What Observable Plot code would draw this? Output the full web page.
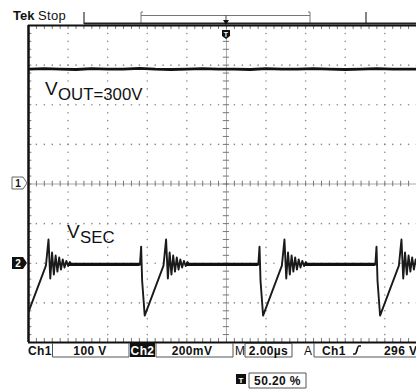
<!DOCTYPE html>
<html><head><meta charset="utf-8">
<script src="https://cdn.jsdelivr.net/npm/d3@7"></script>
<script src="https://cdn.jsdelivr.net/npm/@observablehq/plot@0.6"></script>
<style>
html,body{margin:0;padding:0;background:#fff;}
#chart{position:relative;width:416px;height:392px;overflow:hidden;}
svg{font-family:"Liberation Sans",Arial,sans-serif;}
</style>
</head><body><div id="chart"></div>
<script>
// ---- data ----
// Ch1: VOUT in volts (100 V/div), sample times in µs (2 µs/div)
const voutT = [0,0.8,1.6,2.4,3.2,4.0,4.8,5.6,6.4,7.2,8.0,8.8,9.6,10.4,11.2,12.0,12.8,13.6,14.4,15.2,16.0,16.8,17.6,18.4,19.2,19.6];
const voutV = [290,291,290,289,291,290,290,292,290,289,290,291,290,290,289,291,290,290,291,290,289,290,291,290,290,290];
// Ch2: VSEC one switching cycle, offsets (µs) from each falling edge and level (mV, 200 mV/div)
const cycleT  = [-0.06, 0, 0.05, 0.18, 1.13, 1.26, 1.35, 1.44, 1.53, 1.62, 1.71, 1.80, 1.89, 1.98, 2.07, 2.16, 2.25, 2.34, 2.43, 2.52];
const cycleMv = [-7, 84, -87, -264, -12, 120, -77, 54, -57, 39, -42, 29, -32, 19, -22, 12, -14, 6, -9, -4];
const edgeTimes = [-0.25, 5.69, 11.67, 17.58];
const baselineMv = -6;
// scope settings
const ch1VoltsPerDiv = 100, ch2mVPerDiv = 200, ch2Offset = -2;
const readouts = {ch1:"100 V", ch2:"200mV", time:"2.00µs", trig:"296 V", pos:"50.20 %"};

// ---- tables ----
const vout = voutT.map((t,i)=>({t, y: voutV[i]/ch1VoltsPerDiv}));
const vsec = edgeTimes.flatMap(e => cycleT.map((d,i)=>({t:e+d, y: ch2Offset + cycleMv[i]/ch2mVPerDiv})));
// flat (noisy, thick) portions between end of ringing and next edge
const flats = edgeTimes.slice(0,-1).map((e,i)=>({x1: e + 2.3, x2: edgeTimes[i+1] - 0.06, y: ch2Offset + baselineMv/ch2mVPerDiv}));

// graticule positions
const xMajor = d3.range(2, 19, 2).filter(d=>d!==10);
const yMajor = [-3,-2,-1,1,2,3];
const xMinor = d3.range(0, 19.61, 0.4);
const yMinor = d3.range(-4, 4.001, 0.2);
const gridDots = [
  ...xMajor.flatMap(x => yMinor.map(y=>({x,y}))),
  ...yMajor.flatMap(y => xMinor.map(x=>({x,y})))
];

const svg = Plot.plot({
  width:416, height:392,
  marginLeft:28, marginRight:0, marginTop:25, marginBottom:50,
  x:{domain:[0,19.6], axis:null},
  y:{domain:[-4,4], axis:null},
  style:{background:"#fff"},
  marks:[
    Plot.dot(gridDots, {x:"x", y:"y", r:0.8, fill:"#8a8a8a", stroke:null}),
    // center cross
    Plot.ruleY([0], {stroke:"#aaa", strokeWidth:1}),
    Plot.ruleX([10], {stroke:"#aaa", strokeWidth:1}),
    Plot.ruleX(xMinor, {x:d=>d, y1:-0.07, y2:0.07, stroke:"#777"}),
    Plot.ruleY(yMinor, {y:d=>d, x1:9.84, x2:10.16, stroke:"#777"}),
    // border ticks
    Plot.ruleY(yMinor, {y:d=>d, x1:0, x2:0.17, stroke:"#777"}),
    Plot.ruleX(xMinor, {x:d=>d, y1:4, y2:3.9, stroke:"#777"}),
    Plot.ruleX(xMinor, {x:d=>d, y1:-4, y2:-3.9, stroke:"#777"}),
    // border
    Plot.ruleX([0], {stroke:"#111", strokeWidth:2.5}),
    Plot.ruleY([4, -4], {stroke:"#111", strokeWidth:2.2}),
    // traces
    Plot.line(vout, {x:"t", y:"y", stroke:"#111", strokeWidth:2.8, clip:true}),
    Plot.line(vsec, {x:"t", y:"y", stroke:"#1a1a1a", strokeWidth:1.9, clip:true}),
    Plot.ruleY(flats, {x1:"x1", x2:"x2", y:"y", stroke:"#111", strokeWidth:3.2, clip:true})
  ]
});
document.getElementById("chart").appendChild(svg);

// ---- decorations: header, channel markers, readouts, labels ----
const g = d3.select(svg).append("g").attr("font-family","'Liberation Sans',Arial,sans-serif");
function text(x,y,s,o={}) {
  const t = g.append("text").attr("x",x).attr("y",y).text(s)
    .attr("font-size", o.size||12).attr("fill", o.fill||"#111")
    .attr("font-weight", o.weight||"normal").attr("text-anchor", o.anchor||"start");
  if (o.ls) t.attr("letter-spacing", o.ls);
  return t;
}
function path(d, stroke, fill, w) {
  g.append("path").attr("d",d).attr("stroke",stroke||"none").attr("fill",fill||"none").attr("stroke-width",w||1);
}
// header
text(13,20,"Tek",{weight:"bold",size:13});
text(38,20,"Stop",{size:13,ls:0.3});
path("M84,12V24M366,12V24","#444",null,1.3);
path("M143,12H141V23M141,15.5H310M308,12H310V23","#777",null,1);
path("M84,23.5H416","#222",null,2);
text(226,20,"T",{size:8,anchor:"middle",fill:"#666",weight:"bold"});
path("M223,20L229,20L226,25Z",null,"#111");
path("M222,30H230V36L226,39L222,36Z",null,"#111");
text(226,36.5,"T",{size:7,anchor:"middle",fill:"#fff",weight:"bold"});
// channel markers
path("M12,177H23L27,183L23,189H12Z","#666","#fff",1);
text(18,187,"1",{size:10,anchor:"middle",weight:"bold"});
path("M12,257H23L27,263L23,269H12Z",null,"#111");
text(18,267,"2",{size:10,anchor:"middle",weight:"bold",fill:"#fff"});
// labels
text(45,95,"V",{size:19});
text(58,100,"OUT=300V",{size:16.8});
text(67,238,"V",{size:19});
text(80,243,"SEC",{size:16.8});
// readouts
const ro = {size:12, weight:"bold", ls:0.4};
text(28,355,"Ch1",ro);
path("M52.5,343V357H129V343","#555",null,1);
text(90,355,readouts.ch1,{...ro,anchor:"middle"});
path("M130,343H155V357H130Z",null,"#111");
text(142.5,355,"Ch2",{...ro,anchor:"middle",fill:"#fff"});
path("M156,343V357H233V343","#555",null,1);
text(192,355,readouts.ch2,{...ro,anchor:"middle"});
text(235,355,"M",{...ro,weight:"normal"});
path("M245,343.5H292V357H245Z","#555",null,1);
text(268.5,355,readouts.time,{...ro,anchor:"middle"});
text(304,355,"A",{...ro,weight:"normal"});
path("M314,343V357H420","#555",null,1);
text(322,355,"Ch1",ro);
path("M353,354H355C357,354 357,346 359,346H361","#111",null,1.6);
text(384,355,readouts.trig,ro);
path("M236,374H246V384H236Z",null,"#111");
text(241,382.5,"T",{size:8,anchor:"middle",fill:"#fff",weight:"bold"});
path("M249,373H306V388H249Z","#555",null,1);
text(277.5,385,readouts.pos,{...ro,anchor:"middle"});
</script>
</body></html>
